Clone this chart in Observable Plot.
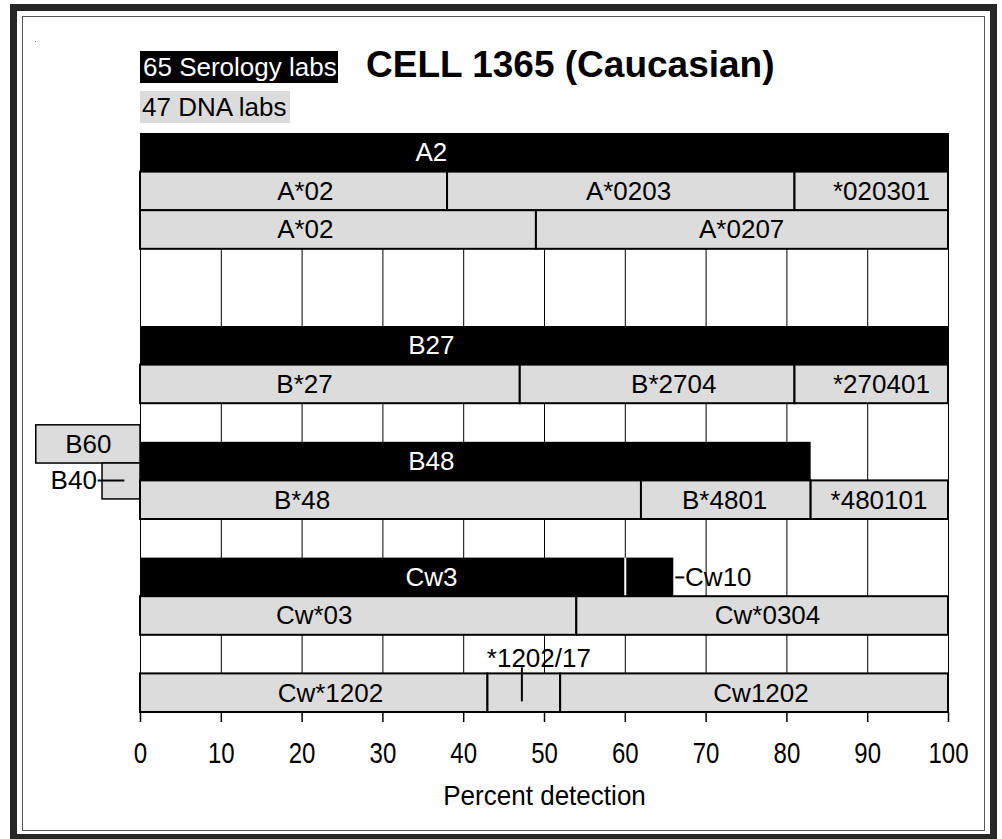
<!DOCTYPE html>
<html>
<head>
<meta charset="utf-8">
<script src="https://cdn.jsdelivr.net/npm/d3@7"></script>
<script src="https://cdn.jsdelivr.net/npm/@observablehq/plot@0.6"></script>
<style>
  html, body { margin: 0; padding: 0; background: #fff; }
  #wrap { position: relative; width: 1002px; height: 839px; overflow: hidden; background: #fff;
          font-family: "Liberation Sans", Arial, Helvetica, sans-serif; }
  .abs { position: absolute; box-sizing: border-box; }
  #chart { position: absolute; left: 0; top: 0; }
  #chart svg { overflow: visible; }
</style>
</head>
<body>
<div id="wrap">
  <div class="abs" style="left:10px;top:4px;width:987px;height:837px;border:7px solid #262626;"></div>
  <div class="abs" style="left:22px;top:16px;width:963px;height:815px;border:1.5px solid #555;"></div>
  <div class="abs" style="left:35px;top:41px;width:1px;height:1px;background:#777;"></div>
  <div class="abs" id="serLegend" style="left:140px;top:51px;width:198px;height:32px;background:#000;color:#fff;font-size:26px;line-height:32px;padding-left:3px;white-space:nowrap;"></div>
  <div class="abs" id="dnaLegend" style="left:140px;top:91px;width:150px;height:32px;background:#dcdcdc;color:#000;font-size:26px;line-height:32px;padding-left:2px;white-space:nowrap;"></div>
  <div class="abs" id="title" style="left:366px;top:47px;font-size:37px;line-height:36px;font-weight:bold;color:#000;white-space:nowrap;"></div>
  <div id="chart"></div>
</div>
<script>
// ---------- data ----------
const titleText = "CELL 1365 (Caucasian)";
const serologyLegend = "65 Serology labs";
const dnaLegendText = "47 DNA labs";
const axisLabel = "Percent detection";
const xTicks = [0, 10, 20, 30, 40, 50, 60, 70, 80, 90, 100];

// Serology assignments (black bars): row index, start %, end %, label x
const serLabels = ["A2", "B27", "B48", "Cw3", ""];
const serRows   = [0, 5, 8, 11, 11];
const serStart  = [0, 0, 0, 0, 60];
const serEnd    = [100, 100, 83, 60, 66];
const serLabelX = [36, 36, 36, 36, 63];

// Cross-reactive serology (left of zero)
const crossLabels = ["B60", "B40"];
const crossTop    = [7.56, 8.55];
const crossBottom = [8.55, 9.48];
const crossStart  = [-12.9, -4.7];
const crossEnd    = [0, 0];

// DNA typing results (grey bars)
const dnaLabels = ["A*02", "A*0203", "*020301",
                   "A*02", "A*0207",
                   "B*27", "B*2704", "*270401",
                   "B*48", "B*4801", "*480101",
                   "Cw*03", "Cw*0304",
                   "Cw*1202", "", "Cw1202"];
const dnaRows   = [1, 1, 1, 2, 2, 6, 6, 6, 9, 9, 9, 12, 12, 14, 14, 14];
const dnaStart  = [0, 38, 81, 0, 49, 0, 47, 81, 0, 62, 83, 0, 54, 0, 43, 52];
const dnaEnd    = [38, 81, 100, 49, 100, 47, 81, 100, 62, 83, 100, 54, 100, 43, 52, 100];
const dnaLabelX = [20.4, 60.4, 91.7, 20.4, 74.4, 20.3, 66, 91.7, 20, 72.3, 91.4, 21.5, 77.6, 23.5, 47.5, 76.8];

// Callout labels (Cw10 to the right, B40 to the left, *1202/17 above)
const rightLabel = ["Cw10"];   const rightX = [67.4];  const rightRow = [11.5];
const leftLabel  = ["B40"];    const leftX  = [-5.4];  const leftRow  = [8.99];
const topLabel   = ["*1202/17"]; const topX = [49.3];  const topRow   = [13.6];
// Callout leader lines
const leaderX1   = [66.2, -5.3, 47.2];
const leaderX2   = [67.3, -2.0, 47.2];
const leaderRow1 = [11.5, 8.99, 13.83];
const leaderRow2 = [11.5, 8.99, 14.71];

// ---------- tables ----------
const serology = serLabels.map((label, i) => ({label, row: serRows[i], x1: serStart[i], x2: serEnd[i], lx: serLabelX[i]}));
const cross = crossLabels.map((label, i) => ({label, y1: crossTop[i], y2: crossBottom[i], x1: crossStart[i], x2: crossEnd[i]}));
const dna = dnaLabels.map((label, i) => ({label, row: dnaRows[i], x1: dnaStart[i], x2: dnaEnd[i], lx: dnaLabelX[i]}));
const mk = (labels, xs, ys) => labels.map((label, i) => ({label, x: xs[i], y: ys[i]}));
const rightCallouts = mk(rightLabel, rightX, rightRow);
const leftCallouts = mk(leftLabel, leftX, leftRow);
const topCallouts = mk(topLabel, topX, topRow);
const leaders = leaderX1.map((x1, i) => ({x1, x2: leaderX2[i], y1: leaderRow1[i], y2: leaderRow2[i]}));

document.getElementById("serLegend").textContent = serologyLegend;
document.getElementById("dnaLegend").textContent = dnaLegendText;
document.getElementById("title").textContent = titleText;

const FS = 26;
const chart = Plot.plot({
  width: 1002,
  height: 839,
  marginLeft: 140,
  marginRight: 54,
  marginTop: 133,
  marginBottom: 127,
  x: {domain: [0, 100], axis: null},
  y: {domain: [0, 15], reverse: true, axis: null},
  style: {fontFamily: "'Liberation Sans', Arial, Helvetica, sans-serif", background: "transparent", overflow: "visible"},
  marks: [
    // vertical grid
    Plot.ruleX(xTicks, {x: d => d, y1: 0, y2: 15, stroke: "#000", strokeWidth: 1}),
    // serology bars
    Plot.rect(serology, {x1: "x1", x2: "x2", y1: "row", y2: d => d.row + 1, fill: "#000"}),
    // split between Cw3 and Cw10
    Plot.ruleX([60], {x: d => d, y1: 11, y2: 12.15, stroke: "#fff", strokeWidth: 2}),
    // cross-reactive boxes
    Plot.rect(cross, {x1: "x1", x2: "x2", y1: "y1", y2: "y2", fill: "#dcdcdc", stroke: "#000", strokeWidth: 1.5}),
    // DNA bars
    Plot.rect(dna, {x1: "x1", x2: "x2", y1: "row", y2: d => d.row + 1, fill: "#dcdcdc", stroke: "#000", strokeWidth: 2}),
    // labels
    Plot.text(serology.filter(d => d.label), {x: "lx", y: d => d.row + 0.5, text: "label", fill: "#fff", fontSize: FS}),
    Plot.text(dna.filter(d => d.label), {x: "lx", y: d => d.row + 0.5, text: "label", fill: "#000", fontSize: FS}),
    Plot.text(cross.slice(0, 1), {x: d => (d.x1 + d.x2) / 2, y: d => (d.y1 + d.y2) / 2, text: "label", fill: "#000", fontSize: FS}),
    Plot.link(leaders, {x1: "x1", x2: "x2", y1: "y1", y2: "y2", stroke: "#000", strokeWidth: 2}),
    Plot.text(rightCallouts, {x: "x", y: "y", text: "label", textAnchor: "start", fill: "#000", fontSize: FS}),
    Plot.text(leftCallouts, {x: "x", y: "y", text: "label", textAnchor: "end", fill: "#000", fontSize: FS}),
    Plot.text(topCallouts, {x: "x", y: "y", text: "label", textAnchor: "middle", fill: "#000", fontSize: FS}),
    // x axis
    Plot.axisX(xTicks, {tickSize: 10, tickPadding: 19, fontSize: 30, label: null, stroke: "#000", strokeWidth: 1.5, tickFormat: d => String(d), className: "ticks"}),
    Plot.text([axisLabel], {x: 50, frameAnchor: "bottom", dy: 92, fontSize: 28, fill: "#000", className: "xlabel"})
  ]
});
document.getElementById("chart").appendChild(chart);
// condense the axis texts like the reference
function condense(sel, k) {
  chart.querySelectorAll(sel).forEach(t => {
    const L = t.getComputedTextLength();
    t.setAttribute("textLength", (L * k).toFixed(1));
    t.setAttribute("lengthAdjust", "spacingAndGlyphs");
  });
}
condense(".ticks text", 0.8);
condense(".xlabel text", 0.93);
</script>
</body>
</html>
